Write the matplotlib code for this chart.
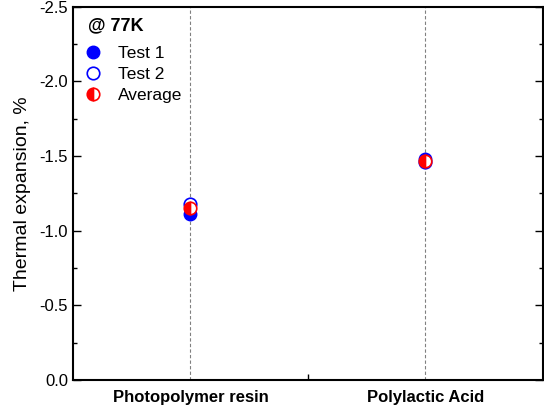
import matplotlib
matplotlib.use("Agg")
import matplotlib.pyplot as plt
from matplotlib.ticker import MultipleLocator, FixedLocator

plt.rcParams['font.family'] = ['Liberation Sans', 'DejaVu Sans']

categories = ["Photopolymer resin", "Polylactic Acid"]
test1 = [-1.11, -1.48]
test2 = [-1.18, -1.46]
average = [-1.15, -1.47]

fig = plt.figure(figsize=(5.44, 4.16), dpi=100)
ax = fig.add_axes([0.134, 0.0865, 0.864, 0.897])

x = list(range(1, len(categories) + 1))

ax.plot(x, test1, 'o', ms=9, color='blue', mec='blue', ls='none', label='Test 1', zorder=3)
ax.plot(x, test2, 'o', ms=9, mfc='white', mec='blue', mew=1.2, ls='none', label='Test 2', zorder=4)
ax.plot(x, average, 'o', ms=9, color='red', mec='red', fillstyle='left',
        markerfacecoloralt='white', mew=1.2, ls='none', label='Average', zorder=5)

for xi in x:
    ax.axvline(xi, color='gray', lw=0.8, ls=(0, (3, 2)), zorder=1)

ax.set_xlim(0.5, 2.5)
ax.set_ylim(0, -2.5)
ax.set_xticks(x)
ax.set_xticklabels(categories, fontweight='bold', fontsize=12)
ax.xaxis.set_minor_locator(FixedLocator([1.5]))
ax.yaxis.set_major_locator(MultipleLocator(0.5))
ax.yaxis.set_minor_locator(MultipleLocator(0.25))
ax.yaxis.set_major_formatter(plt.FuncFormatter(lambda v, p: f"{v:.1f}" if abs(v) > 1e-9 else "0.0"))

ax.tick_params(axis='y', which='both', direction='in', right=True, labelsize=12)
ax.tick_params(axis='y', which='major', length=6, width=1)
ax.tick_params(axis='y', which='minor', length=3, width=1)
ax.tick_params(axis='x', which='major', length=0, pad=7)
ax.tick_params(axis='x', which='minor', direction='in', length=4, width=1)

for s in ax.spines.values():
    s.set_linewidth(1.5)

ax.set_ylabel('Thermal expansion, %', fontsize=14, labelpad=6)

# legend title drawn separately so it can sit higher than the entries
ax.text(0.032, 0.949, '@ 77K', transform=ax.transAxes, fontsize=13,
        fontweight='bold', ha='left', va='center')
ax.legend(loc='upper left', bbox_to_anchor=(-0.0085, 0.938), frameon=False,
          fontsize=12.5, handletextpad=0.9, labelspacing=0.34, handlelength=1.0)

fig.savefig('out.png', dpi=100)
